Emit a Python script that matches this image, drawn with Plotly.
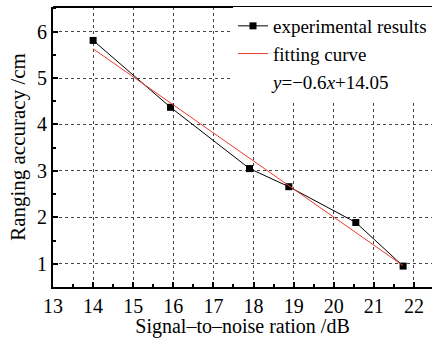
import plotly.graph_objects as go

snr = [14.0, 15.93, 17.9, 18.88, 20.55, 21.73]
accuracy = [5.81, 4.37, 3.05, 2.66, 1.89, 0.95]
fit_x = [14.0, 21.73]
fit_y = [5.63, 0.96]

x_ticks = [13, 14, 15, 16, 17, 18, 19, 20, 21, 22]
y_ticks = [1, 2, 3, 4, 5, 6]

FONT = "Liberation Serif"

fig = go.Figure()
fig.add_trace(go.Scatter(x=snr, y=accuracy, mode="lines+markers",
                         name="experimental results",
                         line=dict(color="black", width=1),
                         marker=dict(symbol="square", size=7, color="black")))
fig.add_trace(go.Scatter(x=fit_x, y=fit_y, mode="lines", name="fitting curve",
                         line=dict(color="#f03a2a", width=1)))
fig.add_trace(go.Scatter(x=[None], y=[None], mode="lines",
                         name="<i>y</i>=\u22120.6<i>x</i>+14.05",
                         line=dict(color="rgba(0,0,0,0)", width=0)))

fig.update_layout(
    width=432, height=338,
    margin=dict(l=53, r=0, t=7, b=51, autoexpand=False),
    paper_bgcolor="white", plot_bgcolor="white",
    font=dict(family=FONT, color="black", size=19),
    showlegend=True,
    legend=dict(x=1, y=1, xanchor="right", yanchor="top", bgcolor="white",
                borderwidth=0, font=dict(size=19, family=FONT),
                itemwidth=30, tracegroupgap=0, traceorder="normal"),
    xaxis=dict(range=[13, 22.45], tickvals=x_ticks, ticks="inside", ticklen=5,
               tickwidth=1.5, tickcolor="black", automargin=False,
               minor=dict(dtick=0.5, ticks="inside", ticklen=3, tickcolor="black", showgrid=False),
               showline=True, linecolor="black", linewidth=2,
               showgrid=True, gridcolor="#444", griddash="dot", gridwidth=1,
               zeroline=False, tickfont=dict(size=20),
               title=dict(text="Signal\u2013to\u2013noise ration /dB", font=dict(size=20), standoff=6)),
    yaxis=dict(range=[0.5, 6.53], tickvals=y_ticks, ticks="inside", ticklen=5,
               tickwidth=1.5, tickcolor="black", automargin=False,
               minor=dict(dtick=0.5, ticks="inside", ticklen=3, tickcolor="black", showgrid=False),
               showline=True, linecolor="black", linewidth=2,
               showgrid=True, gridcolor="#444", griddash="dot", gridwidth=1,
               zeroline=False, tickfont=dict(size=20),
               title=dict(text="Ranging accuracy /cm", font=dict(size=21), standoff=6)),
    shapes=[dict(type="line", xref="paper", yref="paper", x0=0, x1=1, y0=1, y1=1,
                 line=dict(color="black", width=2))],
)

fig.write_html("out.html", config={"displayModeBar": False},
               post_script="document.body.style.margin='0';document.body.style.overflow='hidden';")
